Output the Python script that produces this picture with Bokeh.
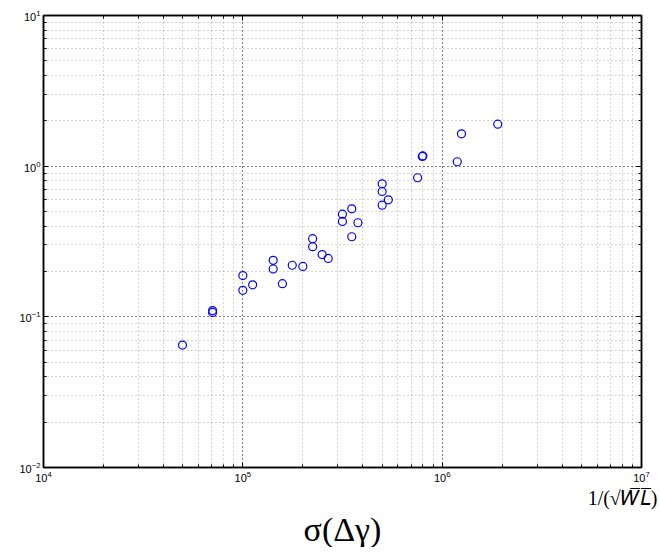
from bokeh.plotting import figure
from bokeh.models import LogAxis, Title, LogTicker, ColumnDataSource
from bokeh.embed import file_html
from bokeh.resources import INLINE

# data (x = 1/sqrt(WL), y = sigma(delta gamma))
x_vals = [4.98e4, 7.05e4, 7.05e4, 1.0e5, 1.0e5, 1.12e5, 1.42e5, 1.42e5, 1.58e5,
          1.77e5, 2.0e5, 2.24e5, 2.24e5, 2.50e5, 2.68e5, 3.16e5, 3.16e5, 3.52e5,
          3.52e5, 3.78e5, 5.0e5, 5.0e5, 5.0e5, 5.37e5, 7.53e5, 7.95e5, 8.0e5,
          1.19e6, 1.25e6, 1.9e6]
y_vals = [0.0649, 0.110, 0.107, 0.188, 0.150, 0.163, 0.237, 0.208, 0.166,
          0.220, 0.216, 0.330, 0.292, 0.259, 0.244, 0.480, 0.430, 0.521,
          0.340, 0.421, 0.764, 0.679, 0.551, 0.598, 0.838, 1.16, 1.17,
          1.07, 1.64, 1.90]

x_range = (1e4, 1e7)
y_range = (1e-2, 1e1)
y_title = "σ(Δγ)"
x_title = "1/(√𝑊̅𝐿̅)"

src = ColumnDataSource(data=dict(x=x_vals, y=y_vals))

p = figure(frame_width=598, frame_height=452,
           x_axis_type="log", y_axis_type="log",
           x_range=x_range, y_range=y_range,
           output_backend="svg", toolbar_location=None,
           min_border_left=43, min_border_right=19,
           min_border_top=15, min_border_bottom=0,
           background_fill_color="white", border_fill_color="white")

p.scatter("x", "y", source=src, size=8, marker="circle",
          fill_color=None, line_color="#0000ff", line_width=1.2)

p.outline_line_color = "black"
p.outline_line_width = 1.5

for ax in [p.xaxis[0], p.yaxis[0]]:
    ax.major_label_text_font = "Liberation Sans"
    ax.major_label_text_font_size = "11px"
    ax.major_label_text_color = "black"
    ax.major_label_standoff = 3
    ax.major_tick_in = 5
    ax.major_tick_out = 0
    ax.minor_tick_in = 3
    ax.minor_tick_out = 0
    ax.axis_line_width = 1.5
    ax.axis_line_color = "black"
    ax.major_tick_line_color = "black"
    ax.minor_tick_line_color = "black"

for loc in ["right", "above"]:
    ax = LogAxis(ticker=LogTicker(num_minor_ticks=10))
    ax.major_label_text_font_size = "1px"
    ax.major_label_text_color = None
    ax.major_tick_in = 5
    ax.major_tick_out = 0
    ax.minor_tick_in = 3
    ax.minor_tick_out = 0
    ax.axis_line_width = 1.5
    ax.major_label_standoff = 0
    p.add_layout(ax, loc)

for g in [p.xgrid[0], p.ygrid[0]]:
    g.grid_line_color = "black"
    g.grid_line_alpha = 0.55
    g.grid_line_dash = "1 3"
    g.minor_grid_line_color = "black"
    g.minor_grid_line_alpha = 0.35
    g.minor_grid_line_dash = "1 3"

p.add_layout(Title(text=x_title, align="right", offset=-16, standoff=0,
                   text_font="Liberation Serif", text_font_size="20px",
                   text_font_style="normal", text_color="black"), "below")
p.add_layout(Title(text=y_title, align="center", offset=-6, standoff=0,
                   text_font="Liberation Serif", text_font_size="34px",
                   text_font_style="normal", text_color="black"), "below")

open("out.html", "w").write(file_html(p, INLINE))
